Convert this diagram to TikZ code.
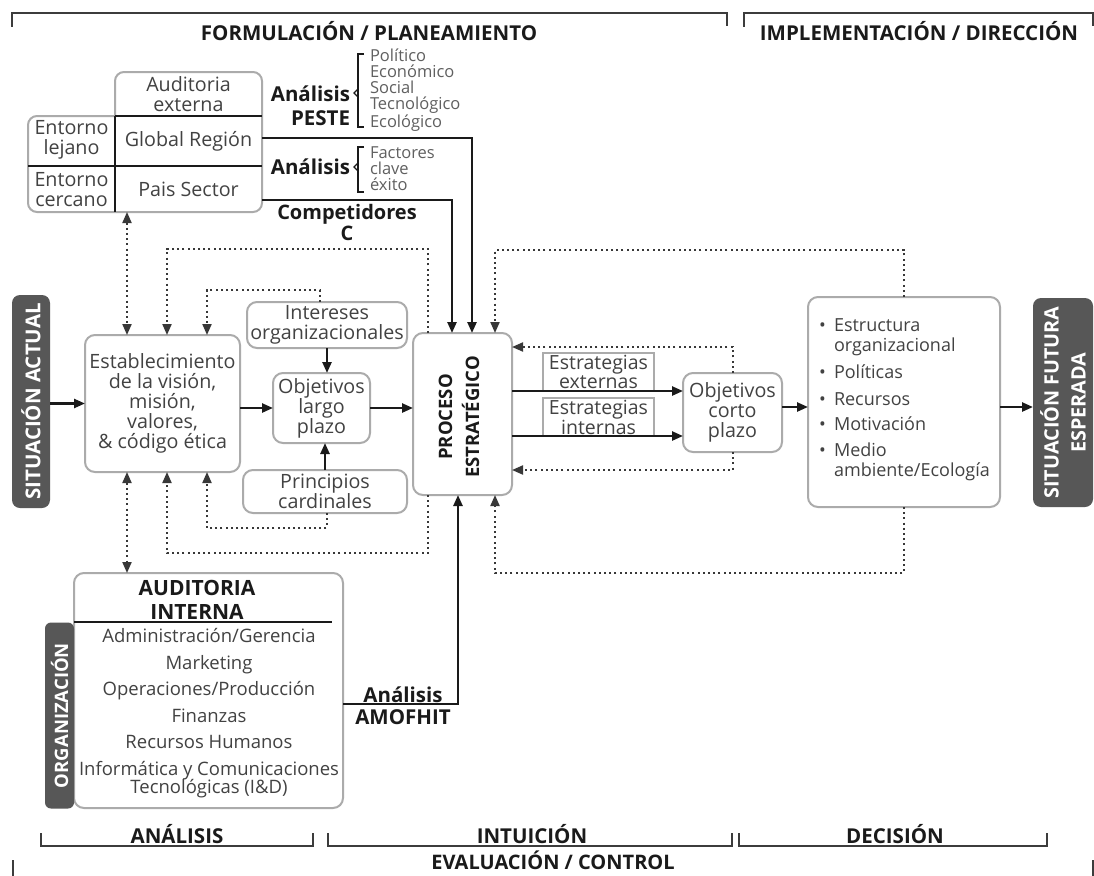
\documentclass[tikz,border=0pt]{standalone}
\usepackage{fontspec}
\setmainfont{Open Sans}
\usetikzlibrary{arrows.meta,calc}
\definecolor{txtc}{HTML}{424242}
\definecolor{lstc}{HTML}{606060}
\definecolor{barc}{HTML}{575757}
\definecolor{edgec}{HTML}{ABABAB}
\definecolor{dotc}{HTML}{383838}
\definecolor{inkc}{HTML}{1A1A1A}
\newcommand\fbody{\fontsize{19.7}{20}\selectfont}
\newcommand\fitem{\fontsize{18}{20}\selectfont}
\newcommand\flist{\fontsize{16.5}{16}\selectfont}
\newcommand\flbl{\fontsize{20.5}{24}\selectfont\bfseries}
\newcommand\fttl{\fontsize{20.5}{20}\selectfont\bfseries}
\tikzset{
  every node/.style={inner sep=0pt,outer sep=0pt},
  rbox/.style={draw=edgec, line width=2pt, rounded corners=10pt, fill=white, text=txtc, align=center, font=\fbody},
  sbox/.style={draw=edgec, line width=1.5pt, fill=white, text=txtc, align=center, font=\fontsize{19.5}{17.5}\selectfont},
  cell/.style={text=txtc, align=center, font=\fbody},
  barbox/.style={fill=barc, rounded corners=8pt, text=white, align=center, font=\flbl},
  lbl/.style={text=inkc, align=center, font=\flbl},
  ttl/.style={text=inkc, font=\fttl},
  lst/.style={text=lstc, align=left, font=\flist},
  arr/.style={draw=inkc, line width=2.4pt, -{Triangle[length=11pt,width=9pt]}},
  dotl/.style={draw=dotc, line width=2pt, dash pattern=on 2pt off 3.2pt},
  dotarr/.style={dotl, -{Triangle[length=11pt,width=9pt]}},
  dotboth/.style={dotl, {Triangle[length=11pt,width=9pt]}-{Triangle[length=11pt,width=9pt]}},
  brk/.style={draw=inkc!85, line width=2.2pt},
  sep/.style={draw=inkc, line width=1.8pt},
  thinbr/.style={draw=inkc, line width=1.4pt},
}
\begin{document}
\begin{tikzpicture}[x=1pt,y=-1pt]
\useasboundingbox (0,0) rectangle (1094,875);
\fill[white] (0,0) rectangle (1094,875);

% top brackets and titles
\draw[brk] (12,27) -- (12,13) -- (727,13) -- (727,26);
\draw[brk] (744,27) -- (744,13) -- (1093,13) -- (1093,26);
\node[ttl] (tform) at (369,31) {FORMULACIÓN / PLANEAMIENTO};
\node[ttl] (timpl) at (919,31) {IMPLEMENTACIÓN / DIRECCIÓN};

% external audit block
\draw[draw=edgec, line width=2pt, rounded corners=9pt] (115,116) -- (115,72) -- (262,72) -- (262,212) -- (28,212) -- (28,116) -- (115,116);
\draw[sep] (115,116) -- (262,116);
\draw[sep] (28,166) -- (262,166);
\draw[sep] (115,116) -- (115,212);
\node[cell] (aext) at (188.5,94) {Auditoria\\externa};
\node[cell, minimum width=147, minimum height=50] (glob) at (188.5,141) {Global Región};
\node[cell, minimum width=147, minimum height=46] (pais) at (188.5,189) {Pais Sector};
\node[cell] (lej) at (71.5,140) {Entorno\\lejano};
\node[cell] (cer) at (71.5,190) {Entorno\\cercano};

% analysis labels and lists
\node[lbl, align=right, anchor=east] (apeste) at (350,105.5) {Análisis\\PESTE};
\draw[thinbr] (364,54) -- (358,54) -- (358,127) -- (364,127);
\draw[thinbr] (358,89) -- (354,93) -- (358,97);
\node[lst, anchor=west] (lpeste) at (370,90) {Político\\Económico\\Social\\Tecnológico\\Ecológico};
\node[lbl, anchor=east] (afce) at (350,167) {Análisis};
\draw[thinbr] (364,147) -- (358,147) -- (358,192) -- (364,192);
\draw[thinbr] (358,163) -- (354,167) -- (358,171);
\node[lst, anchor=west] (lfce) at (370,169) {Factores\\clave\\éxito};
\node[lbl, font=\fontsize{20}{21}\selectfont\bfseries] (comp) at (347,222) {Competidores\\C};

% main row
\node[barbox, rotate=90, minimum width=213, minimum height=38, font=\fontsize{20.5}{20}\selectfont\bfseries] (sact) at (31,401.5) {SITUACIÓN ACTUAL};
\node[rbox, minimum width=155, minimum height=137] (estab) at (162.5,403.5) {Establecimiento\\de la visión,\\misión,\\valores,\\\& código ética};
\node[rbox, minimum width=160, minimum height=46] (inter) at (327,325) {Intereses\\organizacionales};
\node[rbox, minimum width=97, minimum height=70] (olp) at (321.5,408) {Objetivos\\largo\\plazo};
\node[rbox, minimum width=164, minimum height=43] (princ) at (325,491.5) {Principios\\cardinales};
\node[rbox, minimum width=99, minimum height=162] (proc) at (462.5,414) {};
\node[lbl, rotate=90, font=\fontsize{18.5}{27}\selectfont\bfseries] (proct) at (459,417) {PROCESO\\ESTRATÉGICO};
\node[sbox, minimum width=111, minimum height=38] (eext) at (598.5,372) {Estrategias\\externas};
\node[sbox, minimum width=111, minimum height=38] (eint) at (598.5,417) {Estrategias\\internas};
\node[rbox, minimum width=99, minimum height=79] (ocp) at (732.5,412.5) {Objetivos\\corto\\plazo};
\node[rbox, minimum width=192, minimum height=210] (impl) at (904,402) {};
\node[cell, anchor=west, align=left, font=\fitem] (implt) at (819,400) {\makebox[15pt][l]{\textbullet}Estructura\\\hspace*{15pt}organizacional\\[7pt]\makebox[15pt][l]{\textbullet}Políticas\\[7pt]\makebox[15pt][l]{\textbullet}Recursos\\[5pt]\makebox[15pt][l]{\textbullet}Motivación\\[6pt]\makebox[15pt][l]{\textbullet}Medio\\\hspace*{15pt}ambiente/Ecología};
\node[barbox, rotate=90, minimum width=209, minimum height=60, font=\fontsize{19.8}{27}\selectfont\bfseries] (sfut) at (1063,402.5) {SITUACIÓN FUTURA\\ESPERADA};

% internal audit
\node[rbox, minimum width=269, minimum height=235] (aint) at (208.5,690.5) {};
\node[barbox, rotate=90, minimum width=186, minimum height=29, rounded corners=6pt, font=\fontsize{18.5}{20}\selectfont\bfseries] (org) at (59.5,715.5) {ORGANIZACIÓN};
\draw[sep] (74,622) -- (332,622);
\node[lbl, font=\fontsize{21}{24}\selectfont\bfseries] (aihead) at (197,600) {AUDITORIA\\INTERNA};
\node[cell, font=\fontsize{18.5}{26.5}\selectfont] (aiitems) at (209,713) {Administración/Gerencia\\Marketing\\Operaciones/Producción\\Finanzas\\Recursos Humanos\\Informática y Comunicaciones\\[-8.5pt]Tecnológicas (I\&D)};
\node[lbl, font=\fontsize{20.5}{22}\selectfont\bfseries] (amof) at (403,706) {Análisis\\AMOFHIT};

% solid connectors
\draw[arr] ([yshift=3pt]glob.east) -| ([xshift=9.5pt]proc.north);
\draw[arr] ([yshift=-11pt]pais.east) -| ([xshift=-10.5pt]proc.north);
\draw[arr] (estab.west -| sact.south) -- (estab.west);
\draw[arr] (olp.west -| estab.east) -- (olp.west);
\draw[arr] (olp.east) -- (olp.east -| proc.west);
\draw[arr] (inter.south) -- (inter.south |- olp.north);
\draw[arr] (princ.north) -- (princ.north |- olp.south);
\draw[arr] (eext.south -| proc.east) -- (eext.south -| ocp.west);
\draw[arr] (eint.south -| proc.east) -- (eint.south -| ocp.west);
\draw[arr] ([yshift=5.5pt]ocp.east) -- ([yshift=5.5pt]ocp.east -| impl.west);
\draw[arr] ([yshift=-5pt]impl.east) -- ([yshift=-5pt]impl.east -| sfut.north);
\draw[arr] ([yshift=-13.5pt]aint.east) -| ([xshift=-4.5pt]proc.south);

% dotted feedback connectors
\draw[dotarr] (impl.north) -- ++(0,-47) -| ([xshift=32.5pt]proc.north);
\draw[dotarr] (impl.south) -- ++(0,66) -| ([xshift=32.5pt]proc.south);
\draw[dotarr] ([xshift=-34.5pt]proc.north) -- ++(0,-84) -| ([xshift=4.5pt]estab.north);
\draw[dotarr] ([xshift=-34.5pt]proc.south) -- ++(0,58) -| ([xshift=4.5pt]estab.south);
\draw[dotarr] ([xshift=-7pt]inter.north) -- ++(0,-12) -| ([xshift=44.5pt]estab.north);
\draw[dotarr] ([xshift=2pt]princ.south) -- ++(0,15) -| ([xshift=44.5pt]estab.south);
\draw[dotboth] ([xshift=-61.5pt]pais.south) -- ([xshift=-35.5pt]estab.north);
\draw[dotboth] ([xshift=-35.5pt]estab.south) -- ([xshift=-81.5pt]aint.north);
\draw[dotarr] (ocp.north) |- ([yshift=67pt]proc.east);
\draw[dotarr] (ocp.south) |- ([yshift=-56pt]proc.east);

% bottom brackets
\draw[brk] (41,833) -- (41,846) -- (313,846) -- (313,833);
\draw[brk] (328,833) -- (328,846) -- (732,846) -- (732,833);
\draw[brk] (739,833) -- (739,846) -- (1047,846) -- (1047,833);
\node[ttl] (tana) at (177,834) {ANÁLISIS};
\node[ttl] (tint) at (532,834) {INTUICIÓN};
\node[ttl] (tdec) at (895,834) {DECISIÓN};
\draw[brk] (13,860) -- (13,876);
\draw[brk] (1093,860) -- (1093,876);
\node[ttl, font=\fontsize{20}{20}\selectfont\bfseries] (teval) at (553,860) {EVALUACIÓN / CONTROL};
\end{tikzpicture}
\end{document}
